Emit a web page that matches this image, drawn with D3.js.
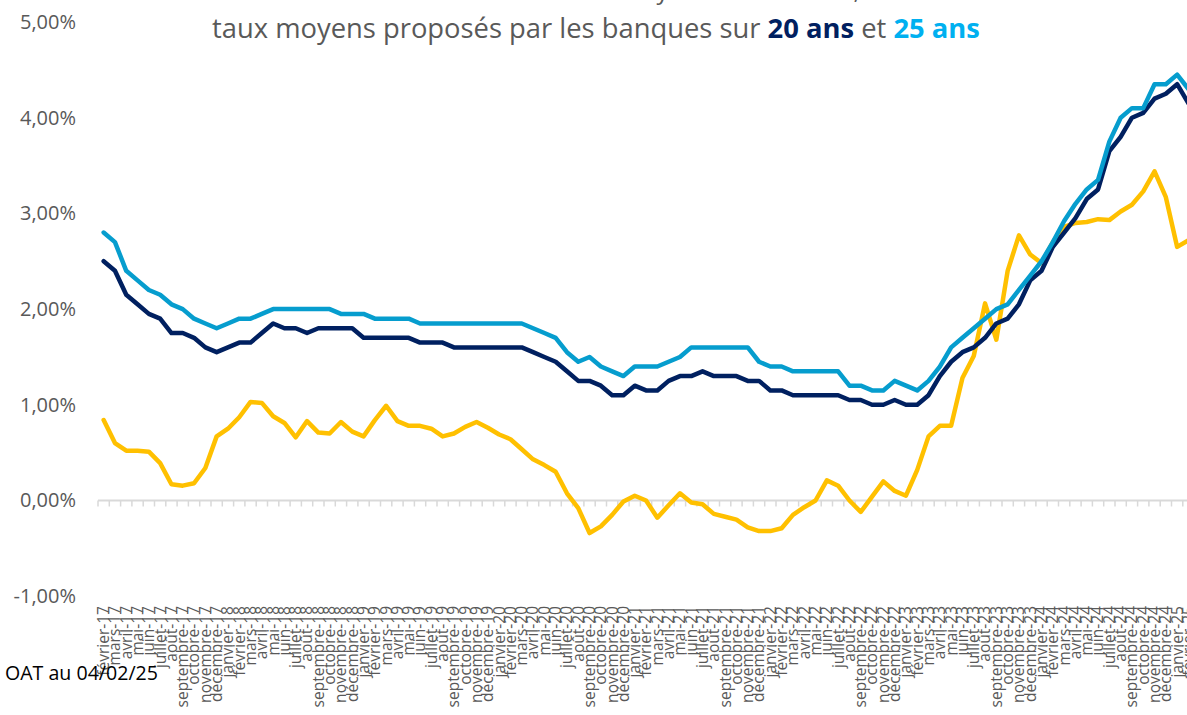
<!DOCTYPE html>
<html><head><meta charset="utf-8">
<script src="https://cdn.jsdelivr.net/npm/d3@7"></script>
<style>
html,body{margin:0;padding:0;background:#fff;overflow:hidden;}
svg{display:block;font-family:"Open Sans",sans-serif;}
</style></head>
<body>
<svg id="chart" width="1187" height="715"></svg>
<script>
const monthNames = ["janvier","février","mars","avril","mai","juin","juillet","août","septembre","octobre","novembre","décembre"];
const categories = [];
for (let y = 17; y <= 25; y++) {
  for (let m = 0; m < 12; m++) {
    if (y === 17 && m < 1) continue;
    if (y === 25 && m > 1) continue;
    categories.push(monthNames[m] + "-" + y);
  }
}
const taux25 = [2.80,2.70,2.40,2.30,2.20,2.15,2.05,2.00,1.90,1.85,1.80,1.85,1.90,1.90,1.95,2.00,2.00,2.00,2.00,2.00,
  2.00,1.95,1.95,1.95,1.90,1.90,1.90,1.90,1.85,1.85,1.85,1.85,1.85,1.85,1.85,1.85,1.85,1.85,1.80,1.75,
  1.70,1.55,1.45,1.50,1.40,1.35,1.30,1.40,1.40,1.40,1.45,1.50,1.60,1.60,1.60,1.60,1.60,1.60,1.45,1.40,
  1.40,1.35,1.35,1.35,1.35,1.35,1.20,1.20,1.15,1.15,1.25,1.20,1.15,1.25,1.40,1.60,1.70,1.80,1.90,2.00,
  2.05,2.20,2.35,2.50,2.70,2.92,3.10,3.25,3.35,3.75,4.00,4.10,4.10,4.35,4.35,4.45,4.30];
const taux20 = [2.50,2.40,2.15,2.05,1.95,1.90,1.75,1.75,1.70,1.60,1.55,1.60,1.65,1.65,1.75,1.85,1.80,1.80,1.75,1.80,
  1.80,1.80,1.80,1.70,1.70,1.70,1.70,1.70,1.65,1.65,1.65,1.60,1.60,1.60,1.60,1.60,1.60,1.60,1.55,1.50,
  1.45,1.35,1.25,1.25,1.20,1.10,1.10,1.20,1.15,1.15,1.25,1.30,1.30,1.35,1.30,1.30,1.30,1.25,1.25,1.15,
  1.15,1.10,1.10,1.10,1.10,1.10,1.05,1.05,1.00,1.00,1.05,1.00,1.00,1.10,1.30,1.45,1.55,1.60,1.70,1.85,
  1.90,2.05,2.30,2.40,2.65,2.80,2.95,3.15,3.25,3.65,3.80,4.00,4.05,4.20,4.25,4.35,4.15];
const oat10 = [0.84,0.60,0.52,0.52,0.51,0.39,0.17,0.155,0.18,0.34,0.67,0.75,0.87,1.03,1.02,0.88,0.81,0.66,0.83,0.71,
  0.70,0.82,0.72,0.67,0.84,0.99,0.83,0.78,0.78,0.75,0.67,0.70,0.77,0.82,0.76,0.69,0.64,0.535,0.43,0.37,
  0.30,0.075,-0.08,-0.34,-0.27,-0.15,-0.01,0.05,0.00,-0.18,-0.05,0.075,-0.02,-0.04,-0.14,-0.17,-0.20,-0.28,-0.32,-0.32,
  -0.29,-0.15,-0.07,0.00,0.21,0.155,0.00,-0.12,0.04,0.20,0.10,0.05,0.32,0.67,0.78,0.78,1.28,1.51,2.06,1.68,
  2.40,2.77,2.57,2.48,2.70,2.86,2.90,2.91,2.94,2.93,3.02,3.09,3.23,3.44,3.17,2.65,2.72];
const yTicks = [-1,0,1,2,3,4,5];
const titleLine1 = [{t:"Évolution ",c:"#595959",b:false},{t:"OAT 10 ans",c:"#FFC000",b:true},{t:" et moyenne du marché,",c:"#595959",b:false}];
const titleLine2 = [{t:"taux moyens proposés par les banques sur ",c:"#595959",b:false},{t:"20 ans",c:"#002060",b:true},{t:" et ",c:"#595959",b:false},{t:"25 ans",c:"#00B0F0",b:true}];
const noteText = "OAT au 04/02/25";

const svg = d3.select("#chart");
const step = 11.3, x0 = 98;
const x = d3.scaleBand().domain(categories).range([x0, x0 + step*categories.length]).padding(0);
const y = d3.scaleLinear().domain([-1,5]).range([596.2, 22]);
const cx = d => x(d) + x.bandwidth()/2;

function fitFont(sel, target, base){
  sel.style("font-size", base + "px");
  const w = sel.node().getComputedTextLength();
  sel.style("font-size", (base*target/w) + "px");
}

// title
function title(parts, yy, target, base){
  const t = svg.append("text").attr("x", 600).attr("y", yy).attr("text-anchor","middle").attr("fill","#595959");
  parts.forEach(p => t.append("tspan").text(p.t).attr("fill", p.c).attr("font-weight", p.b ? "bold" : "normal"));
  fitFont(t, target, base);
  return t;
}
title(titleLine1, -1, 520, 22);
title(titleLine2, 38, 768, 22).attr("x", 596);

// y axis labels
const loc = d3.formatLocale({decimal: ",", thousands: " ", grouping: [3], currency: ["","€"], minus: "-"});
const fmt = v => loc.format(".2f")(v) + "%";
const yAxis = svg.append("g").attr("transform","translate(76,0)")
  .call(d3.axisLeft(y).tickValues(yTicks).tickFormat(fmt).tickSize(0).tickPadding(0));
yAxis.select(".domain").remove();
yAxis.selectAll("text").attr("fill","#595959").style("font-family","Open Sans").style("font-size","18px");
{
  const tt = yAxis.selectAll("text").filter(d => d === 5);
  const w = tt.node().getComputedTextLength();
  yAxis.selectAll("text").style("font-size", (18*56/w) + "px");
}

// zero axis line + ticks at band boundaries
svg.append("line").attr("x1", x0).attr("x2", x0 + step*categories.length)
  .attr("y1", y(0)).attr("y2", y(0)).attr("stroke","#D9D9D9").attr("stroke-width",2);
svg.append("g").selectAll("line").data(categories.concat([null])).join("line")
  .attr("x1", (d,i) => i < categories.length ? x(d) : x0 + step*categories.length)
  .attr("x2", (d,i) => i < categories.length ? x(d) : x0 + step*categories.length)
  .attr("y1", y(0)).attr("y2", y(0)+6).attr("stroke","#D9D9D9").attr("stroke-width",1.5);

// x labels
const xAxis = svg.append("g").attr("transform","translate(0,606)")
  .call(d3.axisBottom(x).tickSize(0).tickPadding(0).tickSizeOuter(0));
xAxis.select(".domain").remove();
xAxis.selectAll("text")
  .attr("transform","rotate(-90)").attr("text-anchor","end")
  .attr("x",0).attr("y",0).attr("dy","0.35em")
  .attr("fill","#595959").style("font-family","Open Sans").style("font-size","15.5px");

// lines
const line = d3.line().x((d,i) => cx(categories[i])).y(d => y(d));
[[oat10,"#FFC000"],[taux20,"#002060"],[taux25,"#069DCE"]].forEach(([arr,c]) => {
  svg.append("path").datum(arr).attr("d", line).attr("fill","none")
    .attr("stroke", c).attr("stroke-width",4.5).attr("stroke-linejoin","round").attr("stroke-linecap","round");
});

// note
const note = svg.append("text").attr("x",5).attr("y",680).attr("fill","#000").text(noteText);
fitFont(note, 153, 16);
</script>
</body></html>
